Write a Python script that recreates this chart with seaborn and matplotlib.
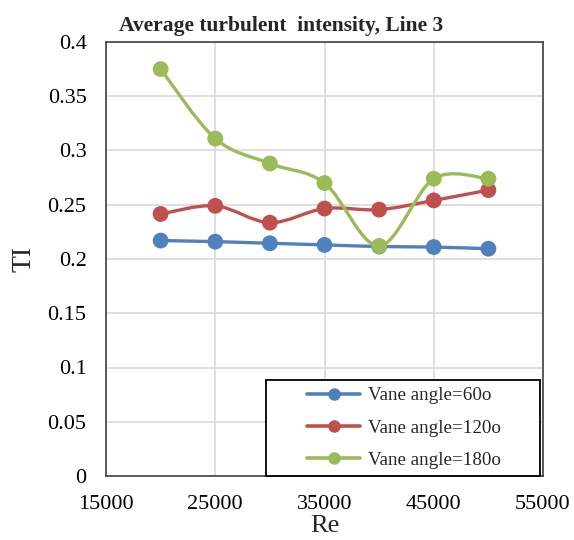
import numpy as np
import pandas as pd
import seaborn as sns
import matplotlib.pyplot as plt
from matplotlib.path import Path
from matplotlib.patches import PathPatch, Rectangle
from matplotlib.lines import Line2D

re_vals = [20000, 25000, 30000, 35000, 40000, 45000, 50000]
ti_60 = [0.217, 0.216, 0.2145, 0.213, 0.2115, 0.211, 0.2095]
ti_120 = [0.2415, 0.249, 0.2335, 0.2465, 0.2455, 0.254, 0.2635]
ti_180 = [0.375, 0.311, 0.288, 0.270, 0.212, 0.274, 0.274]
labels = ["Vane angle=60o", "Vane angle=120o", "Vane angle=180o"]
colors = ["#4F81BD", "#C0504D", "#9BBB59"]

df = pd.DataFrame({
    "Re": re_vals * 3,
    "TI": ti_60 + ti_120 + ti_180,
    "series": [labels[0]] * 7 + [labels[1]] * 7 + [labels[2]] * 7,
})

sns.set_theme(style="white")
plt.rcParams["font.family"] = ["Liberation Serif", "DejaVu Serif"]

fig = plt.figure(figsize=(5.74, 5.40), dpi=100)
ax = fig.add_axes([106 / 574, 64 / 540, 437 / 574, 434 / 540])


def smooth_path(xs, ys):
    pts = np.column_stack([xs, ys]).astype(float)
    n = len(pts)
    verts = [pts[0]]
    codes = [Path.MOVETO]
    for i in range(n - 1):
        p0 = pts[i - 1] if i > 0 else pts[i]
        p1 = pts[i]
        p2 = pts[i + 1]
        p3 = pts[i + 2] if i + 2 < n else pts[i + 1]
        c1 = p1 + (p2 - p0) / 6.0
        c2 = p2 - (p3 - p1) / 6.0
        verts += [c1, c2, p2]
        codes += [Path.CURVE4] * 3
    return Path(verts, codes)


for lab, col in zip(labels, colors):
    sub = df[df["series"] == lab]
    patch = PathPatch(smooth_path(sub["Re"].values, sub["TI"].values),
                      facecolor="none", edgecolor=col, lw=2.4, zorder=3,
                      capstyle="round", joinstyle="round")
    ax.add_patch(patch)

sns.scatterplot(data=df, x="Re", y="TI", hue="series", palette=colors,
                s=130, edgecolor="none", linewidth=0, ax=ax, zorder=4,
                legend=False)

ax.set_xlim(15000, 55000)
ax.set_ylim(0, 0.4)
ax.set_xticks([15000, 25000, 35000, 45000, 55000])
ax.set_yticks(np.arange(0, 0.41, 0.05))
ax.set_yticklabels(["0", "0.05", "0.1", "0.15", "0.2", "0.25", "0.3", "0.35", "0.4"])
ax.grid(True, color="#D9D9D9", lw=1.2)
ax.set_axisbelow(True)
for s in ax.spines.values():
    s.set_color("#404040")
    s.set_linewidth(1.2)
ax.tick_params(axis="both", length=0, labelsize=16, colors="black")
ax.tick_params(axis="y", pad=14)
ax.tick_params(axis="x", pad=14)

ax.set_xlabel("Re", fontsize=19)
ax.xaxis.set_label_coords(0.5, (476 - 532) / 434)
ax.xaxis.label.set_va("baseline")
ax.set_ylabel("TI", fontsize=20)
ax.yaxis.set_label_coords((24 - 106) / 437, 0.5)
ax.yaxis.label.set_va("center")
ax.set_title("Average turbulent  intensity, Line 3", fontsize=15.5,
             fontweight="bold", pad=8, x=(281 - 106) / 437)

# legend frame (fixed-size box like the original)
ax.add_patch(Rectangle((0.366, 0.0), 0.627, 0.221, transform=ax.transAxes,
                       facecolor="white", edgecolor="black", lw=1.3,
                       zorder=5, clip_on=False))
handles = [Line2D([0], [0], color=c, lw=2.6, marker="o", markersize=9,
                  markeredgewidth=0) for c in colors]
leg = ax.legend(handles, labels, loc="center left", fontsize=13.7,
                frameon=False, borderpad=0, borderaxespad=0,
                handlelength=2.8, handletextpad=0.4, labelspacing=0.78,
                bbox_to_anchor=((307 - 106) / 437, (476 - 428) / 434))
leg.set_zorder(6)

fig.savefig("out.png", dpi=100)
